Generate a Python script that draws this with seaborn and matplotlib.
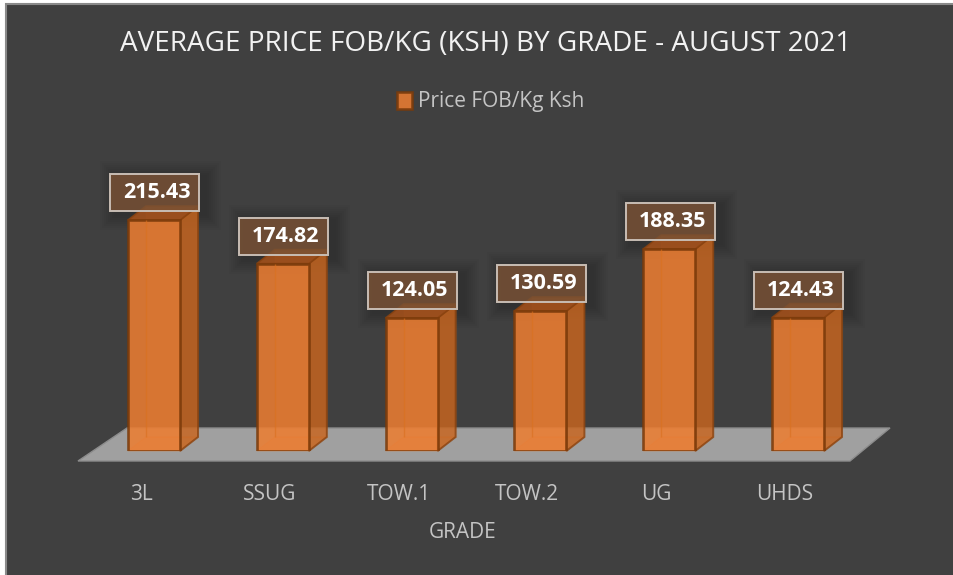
import matplotlib
matplotlib.use("Agg")
import matplotlib.pyplot as plt
import seaborn as sns
import pandas as pd
from matplotlib.patches import Polygon, Rectangle
from matplotlib.transforms import IdentityTransform, Affine2D

grades = ["3L", "SSUG", "TOW.1", "TOW.2", "UG", "UHDS"]
prices = [215.43, 174.82, 124.05, 130.59, 188.35, 124.43]
series_name = "Price FOB/Kg Ksh"
title = "AVERAGE PRICE FOB/KG (KSH) BY GRADE - AUGUST 2021"
xlabel = "GRADE"

W, H = 954, 575
BG = "#404040"
sns.set_theme(style="dark")
plt.rcParams["font.family"] = ["Open Sans", "DejaVu Sans"]

fig = plt.figure(figsize=(W / 100, H / 100), dpi=100, facecolor="white")
fig.add_artist(Rectangle((6, -5), W, H + 1, transform=IdentityTransform(), fc=BG, ec="#8a8a8a",
                         lw=1.5, zorder=-5))

ax = fig.add_axes([89.6 / W, (H - 451) / H, 772.8 / W, 321 / H])
ax.patch.set_alpha(0)
df = pd.DataFrame({"grade": grades, "price": prices})
sns.barplot(data=df, x="grade", y="price", ax=ax, width=0.404, color="#ED7D31",
            saturation=1, alpha=0.86, edgecolor="#7a3a0a", linewidth=1.9,
            label=series_name, zorder=5)
ax.set_ylim(0, 321 / 1.072)
ax.set_xlim(-0.5, 5.5)
ax.set_yticks([])
ax.grid(False)
for s in ax.spines.values():
    s.set_visible(False)

ax.set_xlabel(xlabel, color="#c4c4c4", fontsize=15, labelpad=12, x=(463 - 89.6) / 772.8)
ax.set_ylabel("")
ax.tick_params(axis="x", length=0, pad=24, labelsize=15, labelcolor="#c4c4c4")
for t in ax.get_xticklabels():
    t.set_transform(t.get_transform() + Affine2D().translate(-13, 0))
ax.set_title(title, color="#f2f2f2", fontsize=20.05, x=(486 - 89.6) / 772.8, y=1.0, pad=57)

leg = ax.legend(loc="center", bbox_to_anchor=((491 - 89.6) / 772.8, (451 - 102) / 321),
                frameon=False, fontsize=15, labelcolor="#c4c4c4", handlelength=0.7,
                handleheight=0.85, handletextpad=0.3)

I = IdentityTransform()
fig.canvas.draw()
DX, DY = 18, 14
bars = list(ax.patches)

def poly(pts, **kw):
    p = Polygon(pts, closed=True, transform=I, clip_on=False, **kw)
    ax.add_artist(p)
    return p

poly([(78, H - 461), (850, H - 461), (890, H - 428), (127, H - 428)],
     fc="#a0a0a0", ec="#8c8c8c", lw=1, zorder=1)

for bar in bars:
    b = bar.get_window_extent()
    L, R, B, T = b.x0, b.x1, b.y0, b.y1
    edge = "#8a4310"
    # rear faces and floor of the box
    poly([(L + DX, B + DY), (R + DX, B + DY), (R + DX, T + DY), (L + DX, T + DY)],
         fc="#ED7D31", alpha=0.12, ec="#d9701f", lw=1, zorder=3)
    poly([(L, B), (R, B), (R + DX, B + DY), (L + DX, B + DY)],
         fc="#ED7D31", alpha=0.25, ec="#d9701f", lw=1, zorder=3)
    poly([(L + DX, B + DY), (L + DX, T)], fc="none", ec="#d9701f", alpha=0.6, lw=1, zorder=6)
    # top and side
    poly([(R, B), (R + DX, B + DY), (R + DX, T + DY), (R, T)],
         fc="#C8651E", alpha=0.8, ec=edge, lw=1.4, zorder=4)
    poly([(L, T), (R, T), (R + DX, T + DY), (L + DX, T + DY)],
         fc="#a9521a", alpha=0.85, ec=edge, lw=1.2, zorder=4)
    # data label
    bl, bb = (L + R) / 2 - 44.5 + 1, T + 9
    for k in range(16, 0, -2):
        ax.add_artist(Rectangle((bl - k + 6, bb - k - 3), 89 + 2 * k, 37 + 2 * k, transform=I,
                                fc="black", ec="none", alpha=0.018, clip_on=False, zorder=2))
    ax.add_artist(Rectangle((bl, bb), 89, 37, transform=I, fc="#7a5235", alpha=0.82,
                            ec="none", clip_on=False, zorder=7))
    ax.add_artist(Rectangle((bl, bb), 89, 37, transform=I, fc="none", ec="#c8bdb4",
                            lw=1.4, clip_on=False, zorder=8))
    ax.text(bl + 46.5, bb + 18.5, f"{bar.get_height():.2f}", transform=I, color="white",
            fontsize=15.5, fontweight="bold", ha="center", va="center", zorder=9, clip_on=False)

fig.savefig("out.png", dpi=100, facecolor="white")
